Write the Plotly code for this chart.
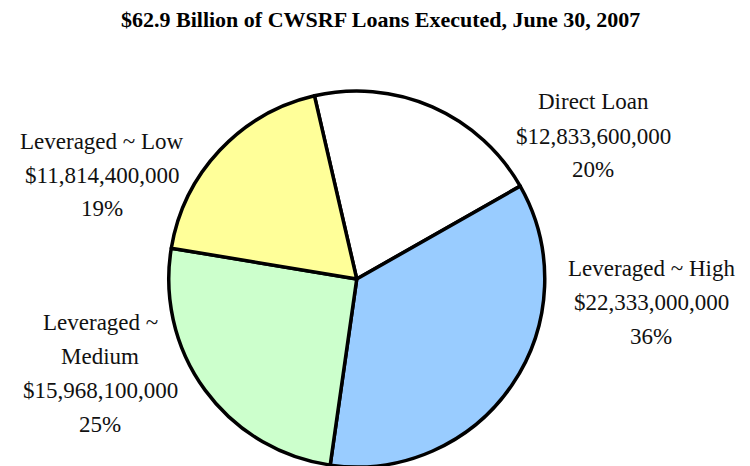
import plotly.graph_objects as go

TITLE = "$62.9 Billion of CWSRF Loans Executed, June 30, 2007"

categories = ["Direct Loan", "Leveraged ~ High", "Leveraged ~ Medium", "Leveraged ~ Low"]
label_names = [["Direct Loan"], ["Leveraged ~ High"], ["Leveraged ~", "Medium"], ["Leveraged ~ Low"]]
amounts = [12833600000, 22333000000, 15968100000, 11814400000]
percents = [20, 36, 25, 19]  # as printed on the source chart
colors = ["#FFFFFF", "#99CCFF", "#CCFFCC", "#FFFF99"]

# label block placement (pixel centre x, first-line y) for each slice
label_pos = [(593, 102), (651, 268), (100, 322), (102, 141)]
LINE_GAP = 34

W, H = 750, 466
OFF = 8  # the page body has an 8px margin, shift everything back by it
SERIF = "Garamond, 'Liberation Serif', 'DejaVu Serif', serif"

fig = go.Figure(
    go.Pie(
        labels=categories,
        values=amounts,
        sort=False,
        direction="clockwise",
        rotation=-13,
        marker=dict(colors=colors, line=dict(color="black", width=3.5)),
        textinfo="none",
        hoverinfo="label+value+percent",
        showlegend=False,
        domain=dict(x=[0.089, 0.841], y=[7 / H, 1 - 83 / H]),
    )
)

annotations = []
for names, amt, pct, (px_x, px_y) in zip(label_names, amounts, percents, label_pos):
    lines = names + [f"${amt:,.0f}", f"{pct}%"]
    for i, line in enumerate(lines):
        annotations.append(
            dict(
                text=line,
                x=(px_x - OFF) / W,
                y=1 - (px_y - OFF + i * LINE_GAP) / H,
                xref="paper",
                yref="paper",
                xanchor="center",
                yanchor="middle",
                showarrow=False,
                font=dict(family=SERIF, size=23, color="#111111"),
            )
        )

annotations.append(
    dict(
        text=f"<b>{TITLE}</b>",
        x=(380 - OFF) / W,
        y=1 - (20 - OFF) / H,
        xref="paper",
        yref="paper",
        xanchor="center",
        yanchor="middle",
        showarrow=False,
        font=dict(family="'Liberation Serif', serif", size=22, color="black"),
    )
)

fig.update_layout(
    width=W,
    height=H,
    margin=dict(l=0, r=0, t=0, b=0),
    paper_bgcolor="white",
    plot_bgcolor="white",
    annotations=annotations,
)

fig.write_html("out.html")
